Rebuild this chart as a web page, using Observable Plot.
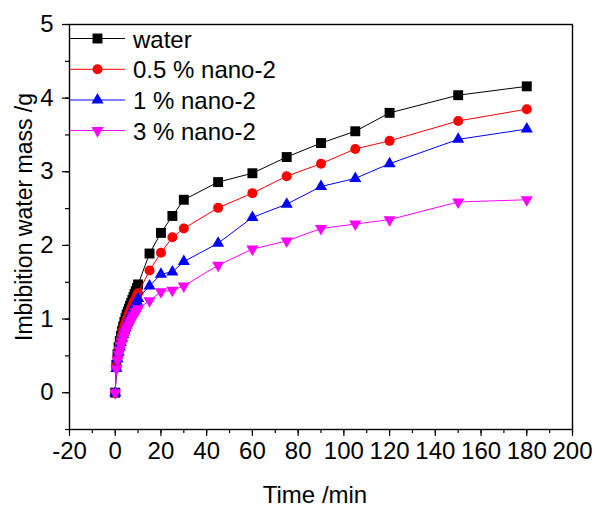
<!DOCTYPE html>
<html><head><meta charset="utf-8">
<script src="https://cdn.jsdelivr.net/npm/d3@7"></script>
<script src="https://cdn.jsdelivr.net/npm/@observablehq/plot@0.6"></script>
<style>
body{margin:0;background:#fff;}
#wrap{position:relative;width:594px;height:508px;font-family:"Liberation Sans",Arial,sans-serif;}
#wrap svg{position:absolute;left:0;top:0;}
</style></head><body><div id="wrap"></div>
<script>
// Time (min)
const times = [0,0.5,1,1.5,2,2.5,3,3.5,4,4.5,5,5.5,6,6.5,7,7.5,8,8.5,9,9.5,10,15,20,25,30,45,60,75,90,105,120,150,180];
// Imbibition water mass (g)
const water  = [0,0.38,0.52,0.62,0.70,0.77,0.84,0.90,0.96,1.01,1.06,1.10,1.14,1.18,1.22,1.26,1.30,1.34,1.38,1.42,1.47,1.89,2.17,2.40,2.62,2.86,2.98,3.20,3.39,3.55,3.80,4.04,4.16];
const nano05 = [0,0.36,0.49,0.58,0.66,0.73,0.79,0.85,0.90,0.95,0.99,1.03,1.07,1.11,1.15,1.18,1.22,1.25,1.28,1.32,1.35,1.66,1.90,2.11,2.23,2.51,2.71,2.94,3.11,3.31,3.42,3.69,3.85];
const nano1  = [0,0.33,0.46,0.55,0.62,0.68,0.74,0.79,0.84,0.88,0.92,0.96,1.00,1.04,1.08,1.11,1.15,1.18,1.21,1.24,1.28,1.45,1.61,1.64,1.78,2.03,2.38,2.56,2.80,2.91,3.11,3.44,3.58];
const nano3  = [0,0.32,0.44,0.52,0.58,0.64,0.69,0.74,0.78,0.82,0.86,0.89,0.92,0.95,0.98,1.01,1.04,1.06,1.09,1.11,1.14,1.25,1.37,1.39,1.45,1.73,1.95,2.06,2.23,2.29,2.35,2.59,2.62];
const seriesNames = ["water","0.5 % nano-2","1 % nano-2","3 % nano-2"];
const xTicks = [-20,0,20,40,60,80,100,120,140,160,180,200];
const yTicks = [0,1,2,3,4,5];

const triangleDown = {
  draw(context, size) {
    const y = Math.sqrt(size / (3 * Math.sqrt(3)));
    context.moveTo(0, 2 * y);
    context.lineTo(Math.sqrt(3) * y, -y);
    context.lineTo(-Math.sqrt(3) * y, -y);
    context.closePath();
  }
};
const styles = [
  {values: water,  color: "#000000", symbol: "square",   r: 5.6},
  {values: nano05, color: "#ff0000", symbol: "circle",   r: 5.0},
  {values: nano1,  color: "#0000ff", symbol: "triangle", r: 4.5},
  {values: nano3,  color: "#ff00ff", symbol: triangleDown, r: 4.5}
];

const marks = [];
styles.forEach((s, k) => {
  const rows = times.map((t, i) => ({t, v: s.values[i], name: seriesNames[k]}));
  marks.push(Plot.line(rows, {x: "t", y: "v", stroke: s.color, strokeWidth: 1}));
  marks.push(Plot.dot(rows, {x: "t", y: "v", fill: s.color, stroke: "none", symbol: s.symbol, r: s.r}));
});

const minorX = d3.range(-20, 201, 10);
const minorY = d3.range(-0.5, 5.01, 0.5);
const FONT = 24;

const plot = Plot.plot({
  width: 594, height: 508,
  marginLeft: 69, marginRight: 22, marginTop: 24, marginBottom: 79,
  style: {fontFamily: '"Liberation Sans", Arial, sans-serif', background: "white", color: "black"},
  x: {domain: [-20, 200]},
  y: {domain: [-0.5, 5]},
  marks: [
    Plot.axisX(minorX, {tickSize: 4, tickFormat: () => "", label: null, strokeWidth: 1.2}),
    Plot.axisX(xTicks, {tickSize: 7, tickPadding: 5, fontSize: FONT, tickFormat: d => String(d), label: null, strokeWidth: 1.2}),
    Plot.axisY(minorY, {tickSize: 4, tickFormat: () => "", label: null, strokeWidth: 1.2}),
    Plot.axisY(yTicks, {tickSize: 7, tickPadding: 9, fontSize: FONT, tickFormat: d => String(d), label: null, strokeWidth: 1.2}),
    ...marks,
    Plot.frame({stroke: "black", strokeWidth: 1.4})
  ]
});
const wrap = document.getElementById("wrap");
wrap.appendChild(plot);

// overlay: axis titles and legend
const ov = d3.select(wrap).append("svg")
  .attr("width", 594).attr("height", 508)
  .style("pointer-events", "none")
  .attr("font-family", '"Liberation Sans", Arial, sans-serif');
ov.append("text").attr("x", 315).attr("y", 503).attr("text-anchor", "middle")
  .attr("font-size", FONT).attr("fill", "black").text("Time /min");
ov.append("text").attr("transform", "translate(31.5,217) rotate(-90)").attr("text-anchor", "middle")
  .attr("font-size", 23).attr("fill", "black").text("Imbibition water mass /g");

const legendRows = [38.5, 69.3, 100, 130.5];
styles.forEach((s, k) => {
  const y = legendRows[k];
  const g = ov.append("g");
  g.append("line").attr("x1", 70).attr("x2", 125).attr("y1", y).attr("y2", y)
    .attr("stroke", s.color).attr("stroke-width", 1);
  const type = typeof s.symbol === "string" ? d3["symbol" + s.symbol[0].toUpperCase() + s.symbol.slice(1)] : s.symbol;
  g.append("path").attr("transform", `translate(97.5,${y})`)
    .attr("d", d3.symbol(type, Math.PI * s.r * s.r)()).attr("fill", s.color);
  g.append("text").attr("x", 133).attr("y", y + 9).attr("font-size", FONT).attr("fill", "black").text(seriesNames[k]);
});
</script></body></html>
